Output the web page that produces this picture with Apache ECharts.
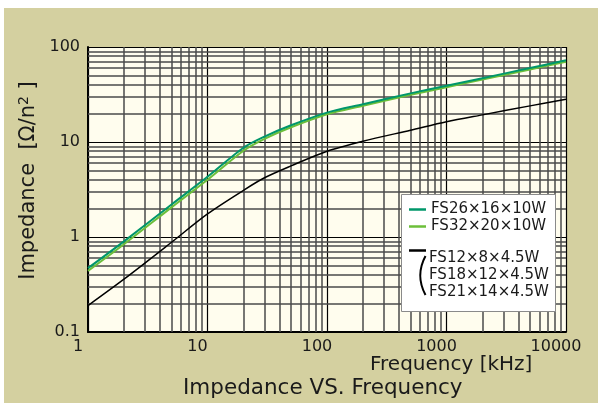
<!DOCTYPE html>
<html>
<head>
<meta charset="utf-8">
<script src="https://cdn.jsdelivr.net/npm/echarts@6/dist/echarts.min.js"></script>
<style>
  html, body { margin: 0; padding: 0; background: #ffffff; }
  #main { width: 598px; height: 403px; }
</style>
</head>
<body>
<div id="main"></div>
<script>
// 频率 [kHz]
var freqList = [1, 2, 5, 10, 20, 30, 50, 100, 200, 500, 1000, 2000, 5000, 10000];
// FS26x16x10W
var zFS26 = [0.47, 0.90, 2.2, 4.3, 8.7, 11.4, 15.0, 20.4, 25.0, 32.5, 39.0, 47.0, 60.0, 72.5];
// FS32x20x10W
var zFS32 = [0.44, 0.84, 2.05, 4.0, 8.1, 10.8, 14.3, 19.6, 24.1, 31.4, 37.7, 45.5, 58.0, 70.0];
// FS12x8x4.5W / FS18x12x4.5W / FS21x14x4.5W
var zFS12 = [0.19, 0.36, 0.88, 1.75, 3.1, 4.2, 5.6, 8.0, 10.2, 13.3, 16.3, 19.3, 24.0, 28.2];

var xTickLabels = ['1', '10', '100', '1000', '10000'];
var yTickLabels = ['0.1', '1', '10', '100'];
// 辅助网格线
var xMinorGrid = [2, 3, 4, 5, 6, 7, 8, 9, 20, 30, 40, 50, 60, 70, 80, 90,
    200, 300, 400, 500, 600, 700, 800, 900, 2000, 3000, 4000, 5000, 6000, 7000, 8000, 9000];
var yMinorGrid = [0.2, 0.3, 0.4, 0.5, 0.6, 0.7, 0.8, 0.9, 2, 3, 4, 5, 6, 7, 8, 9,
    20, 30, 40, 50, 60, 70, 80, 90];

var legendNames = ['FS26×16×10W', 'FS32×20×10W'];
var blackNames = ['FS12×8×4.5W', 'FS18×12×4.5W', 'FS21×14×4.5W'];

var FONT = 'DejaVu Sans';
var TXT = '#1a1a1a';

function pairs(ys) {
    var out = [];
    for (var i = 0; i < freqList.length; i++) {
        out.push([freqList[i], ys[i]]);
    }
    return out;
}

var myChart = echarts.init(document.getElementById('main'));

var gridMarks = [];
for (var i = 0; i < xMinorGrid.length; i++) gridMarks.push({xAxis: xMinorGrid[i]});
for (var j = 0; j < yMinorGrid.length; j++) gridMarks.push({yAxis: yMinorGrid[j]});

var option = {
    animation: false,
    backgroundColor: '#ffffff',
    textStyle: {fontFamily: FONT, color: TXT},
    graphic: [
        {type: 'rect', z: -10, silent: true,
            shape: {x: 4, y: 8, width: 594, height: 395},
            style: {fill: '#d4d0a0'}},
        // 图例框
        {type: 'rect', z: 100, silent: true,
            shape: {x: 401.5, y: 194.5, width: 154, height: 117},
            style: {fill: '#ffffff', stroke: '#8a8a8a', lineWidth: 1}},
        {type: 'line', z: 101, silent: true,
            shape: {x1: 409, y1: 250.5, x2: 426, y2: 250.5},
            style: {stroke: '#000000', lineWidth: 2.5}},
        {type: 'bezierCurve', z: 101, silent: true,
            shape: {x1: 425.5, y1: 256, cpx1: 415, cpy1: 275.5, x2: 425.5, y2: 295},
            style: {stroke: '#000000', lineWidth: 2, fill: null}},
        {type: 'text', z: 101, silent: true, left: 429, top: 251,
            style: {text: blackNames[0], font: '15px "DejaVu Sans"', fill: TXT}},
        {type: 'text', z: 101, silent: true, left: 429, top: 268,
            style: {text: blackNames[1], font: '15px "DejaVu Sans"', fill: TXT}},
        {type: 'text', z: 101, silent: true, left: 429, top: 285,
            style: {text: blackNames[2], font: '15px "DejaVu Sans"', fill: TXT}}
    ],
    title: [
        {text: 'Frequency [kHz]', left: 370, top: 355, padding: 0,
            textStyle: {fontFamily: FONT, fontSize: 20, fontWeight: 'normal', color: TXT}},
        {text: 'Impedance VS. Frequency', left: 183, top: 377, padding: 0,
            textStyle: {fontFamily: FONT, fontSize: 21.5, fontWeight: 'normal', color: TXT}}
    ],
    legend: {
        data: legendNames,
        orient: 'vertical',
        left: 404,
        top: 197,
        z: 110,
        icon: 'rect',
        itemWidth: 17,
        itemHeight: 2.5,
        itemGap: 2,
        textStyle: {fontFamily: FONT, fontSize: 15, color: TXT, lineHeight: 15}
    },
    grid: {
        left: 88, top: 47, right: 32, bottom: 71,
        show: true, backgroundColor: '#fffdee', borderWidth: 0
    },
    xAxis: {
        type: 'log', logBase: 10, min: 1, max: 10000,
        axisLine: {show: true, onZero: false, lineStyle: {color: '#000', width: 2}},
        axisTick: {show: false},
        axisLabel: {fontFamily: FONT, fontSize: 16, color: TXT, margin: 7,
            padding: [0, 20, 0, 0],
            formatter: function (v) { return xTickLabels[Math.round(Math.log10(v))]; }},
        splitLine: {show: true, lineStyle: {color: '#000', width: 1.2}}
    },
    yAxis: {
        type: 'log', logBase: 10, min: 0.1, max: 100,
        name: 'Impedance  [Ω/n{sup|2} ]',
        nameLocation: 'middle',
        nameGap: 45,
        nameRotate: 90,
        nameTextStyle: {fontFamily: FONT, fontSize: 21, color: TXT, padding: [0, 0, 0, 18],
            rich: {sup: {fontFamily: FONT, fontSize: 14, color: TXT, verticalAlign: 'top', padding: [0, 0, 8, 0]}}},
        axisLine: {show: true, onZero: false, lineStyle: {color: '#000', width: 2}},
        axisTick: {show: false},
        axisLabel: {fontFamily: FONT, fontSize: 16, color: TXT, margin: 8,
            padding: [0, 0, 4, 0],
            formatter: function (v) { return yTickLabels[Math.round(Math.log10(v)) + 1]; }},
        splitLine: {show: true, lineStyle: {color: '#000', width: 1.2}}
    },
    series: [
        {
            name: 'grid',
            type: 'line',
            data: [],
            silent: true,
            markLine: {
                silent: true,
                symbol: 'none',
                label: {show: false},
                lineStyle: {color: '#4a4a4a', width: 1.5, type: 'solid'},
                data: gridMarks
            }
        },
        {
            name: legendNames[1],
            type: 'line',
            data: pairs(zFS32),
            smooth: 0.3,
            showSymbol: false,
            z: 10,
            color: '#6cbf3a',
            lineStyle: {width: 2}
        },
        {
            name: legendNames[0],
            type: 'line',
            data: pairs(zFS26),
            smooth: 0.3,
            showSymbol: false,
            z: 11,
            color: '#00976a',
            lineStyle: {width: 2}
        },
        {
            name: 'FS12',
            type: 'line',
            data: pairs(zFS12),
            smooth: 0.3,
            showSymbol: false,
            z: 12,
            color: '#000000',
            lineStyle: {width: 1.5}
        }
    ]
};

myChart.setOption(option);
</script>
</body>
</html>
